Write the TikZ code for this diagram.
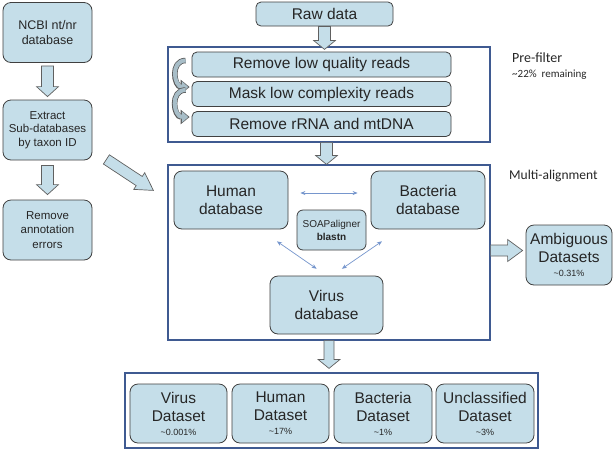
\documentclass[tikz,border=0pt]{standalone}
\usepackage{fontspec}
\setmainfont{Liberation Sans}
\newfontfamily\calib{Carlito}
\usetikzlibrary{calc,arrows.meta}

\definecolor{boxfill}{RGB}{197,222,233}
\definecolor{boxline}{RGB}{64,64,64}
\definecolor{frameline}{RGB}{63,90,145}
\definecolor{linkcol}{RGB}{118,150,205}
\definecolor{curlcol}{RGB}{168,190,200}

\newcommand{\fsz}[2]{\fontsize{#1}{#2}\selectfont}
% block arrow: from, to, half shaft, half head, head length
\newcommand{\fatarrow}[5]{%
  \coordinate (fa-h) at ($(#2)!#5!(#1)$);
  \draw[bigarrow] ($(#1)!#3!90:(#2)$) -- ($(fa-h)!#3!90:(#2)$) -- ($(fa-h)!#4!90:(#2)$) -- (#2)
    -- ($(fa-h)!#4!-90:(#2)$) -- ($(fa-h)!#3!-90:(#2)$) -- ($(#1)!#3!-90:(#2)$) -- cycle;}

\begin{document}
\begin{tikzpicture}[x=1pt,y=-1pt]

\tikzset{bluebox/.style={draw=boxline, fill=boxfill, rounded corners=8pt, line width=0.8pt, align=center, inner sep=1pt, text=black!85},}
\tikzset{framebox/.style={draw=frameline, fill=white, line width=1.2pt, inner sep=0pt},}
\tikzset{bigarrow/.style={draw=gray!75!black, fill=boxfill, line width=0.7pt, line join=miter},}
\tikzset{curlout/.style={-{Triangle[width=14pt,length=9pt]}, draw=gray!70!black, line width=5.5pt},}
\tikzset{curlin/.style={-{Triangle[width=11pt,length=6.5pt]}, draw=curlcol, line width=4pt, shorten >=1.3pt},}
\tikzset{link/.style={{Stealth[length=5pt,width=4pt]}-{Stealth[length=5pt,width=4pt]}, draw=linkcol, line width=0.7pt},}
\tikzset{note/.style={anchor=north west, inner sep=0pt, align=left, text=black!85},}

\useasboundingbox (0,0) rectangle (613,451);

\draw
	(329,94.5) node[framebox, minimum width=322, minimum height=95] (prebox) {}
	(329,252.5) node[framebox, minimum width=322, minimum height=175] (multibox) {}
	(331.5,410.5) node[framebox, minimum width=413, minimum height=75] (outbox) {}

	(47.5,32.5) node[bluebox, minimum width=89, minimum height=60, font=\fsz{12.5}{15}] (ncbi) {NCBI nt/nr\\database}
	(47.5,130) node[bluebox, minimum width=89, minimum height=60, font=\fsz{11.5}{13.5}] (extract) {Extract\\Sub-databases\\by taxon ID}
	(47.5,230) node[bluebox, minimum width=89, minimum height=60, font=\fsz{11.5}{14.5}] (annot) {Remove\\annotation\\errors}

	(324.5,14) node[bluebox, rounded corners=5pt, minimum width=137, minimum height=24, font=\fsz{15.5}{18}] (raw) {Raw data}
	(321.5,64.5) node[bluebox, rounded corners=5pt, minimum width=259, minimum height=25, font=\fsz{15.5}{18}] (lowq) {Remove low quality reads}
	(321.5,94) node[bluebox, rounded corners=5pt, minimum width=259, minimum height=25, font=\fsz{15.5}{18}] (mask) {Mask low complexity reads}
	(321.5,124) node[bluebox, rounded corners=5pt, minimum width=259, minimum height=25, font=\fsz{15.5}{18}] (rrna) {Remove rRNA and mtDNA}

	(231,200) node[bluebox, minimum width=114, minimum height=58, font=\fsz{15.5}{18}] (human) {Human\\database}
	(428,200) node[bluebox, minimum width=114, minimum height=58, font=\fsz{15.5}{18}] (bacteria) {Bacteria\\database}
	(331.5,230) node[bluebox, rounded corners=6pt, minimum width=69, minimum height=40, font=\fsz{10}{13}] (soap) {SOAPaligner\\\textbf{blastn}}
	(326.5,305) node[bluebox, minimum width=113, minimum height=58, font=\fsz{15.5}{18}] (virus) {Virus\\database}
	(569,255) node[bluebox, minimum width=86, minimum height=60, font=\fsz{15.5}{18}] (ambig) {Ambiguous\\Datasets\\[-4pt]{\fsz{9}{10}\textasciitilde0.31\%}}

	(178.5,413.5) node[bluebox, minimum width=97, minimum height=59, font=\fsz{15.5}{18}] (vd) {Virus\\Dataset\\[-4pt]{\fsz{9}{10}\textasciitilde0.001\%}}
	(280.5,413.5) node[bluebox, minimum width=97, minimum height=59, font=\fsz{15.5}{18}] (hd) {Human\\Dataset\\[-4pt]{\fsz{9}{10}\textasciitilde17\%}}
	(383,413.5) node[bluebox, minimum width=98, minimum height=59, font=\fsz{15.5}{18}] (bd) {Bacteria\\Dataset\\[-4pt]{\fsz{9}{10}\textasciitilde1\%}}
	(485,413.5) node[bluebox, minimum width=98, minimum height=59, font=\fsz{15.5}{18}] (ud) {Unclassified\\Dataset\\[-4pt]{\fsz{9}{10}\textasciitilde3\%}}

	(512,53) node[note, font={\calib\fsz{14}{15}}] (prelabel) {Pre-filter\\{\fsz{11}{12}\textasciitilde22\%\ \ remaining}}
	(509,170) node[note, font={\calib\fsz{13.5}{15}}] (multilabel) {Multi-alignment}
;

\fatarrow{[yshift=-3pt]ncbi.south}{[yshift=3pt]extract.north}{6pt}{11pt}{10pt}
\fatarrow{[yshift=-5pt]extract.south}{[yshift=5pt]annot.north}{6pt}{11pt}{10pt}
\fatarrow{[xshift=14pt,yshift=1pt]extract.south east}{[xshift=-14pt,yshift=-26pt]multibox.north west}{5.5pt}{10pt}{17pt}
\fatarrow{raw.south}{[yshift=-3pt]raw.south |- prebox.north}{6pt}{11pt}{9pt}
\fatarrow{prebox.south -| virus.north}{multibox.north -| virus.north}{6pt}{11pt}{9pt}
\coordinate (amb-in) at ($(multibox.east |- ambig.west)+(0,-4.5)$);
\coordinate (amb-tip) at ($(ambig.west)+(-3,-4.5)$);
\fatarrow{amb-in}{amb-tip}{5.5pt}{11pt}{15pt}
\coordinate (out-tip) at ($(multibox.south |- outbox.north)+(0,-4)$);
\fatarrow{multibox.south}{out-tip}{5pt}{11pt}{9pt}

\foreach \a/\b in {lowq/mask, mask/rrna}{
	\draw[curlout] ([xshift=-6pt,yshift=4pt]\a.west) to[out=180,in=180,looseness=1.5] ([xshift=-2pt,yshift=7pt]\b.west);
	\draw[curlin] ([xshift=-6pt,yshift=4pt]\a.west) to[out=180,in=180,looseness=1.5] ([xshift=-2pt,yshift=7pt]\b.west);
}

\draw[link, shorten <=12pt, shorten >=13pt] ([yshift=7pt]human.east) -- ([yshift=7pt]bacteria.west);
\draw[link, shorten <=21pt, shorten >=12pt] ($(human.south)!0.5!(human.south east)$) -- (virus.north);
\draw[link, shorten <=21pt, shorten >=12pt] ($(bacteria.south west)!0.5!(bacteria.south)$) -- ([xshift=5.5pt]virus.north);

\end{tikzpicture}
\end{document}
